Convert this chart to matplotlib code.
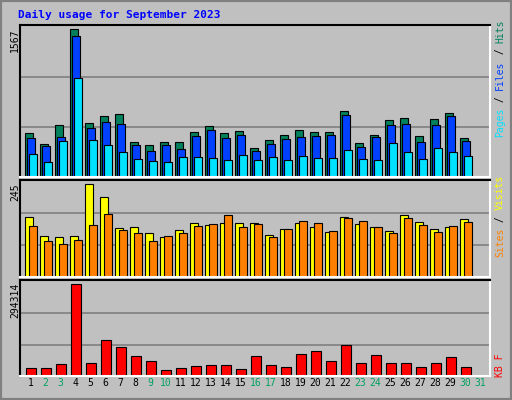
import matplotlib
matplotlib.use("Agg")
import matplotlib.pyplot as plt
import numpy as np

days = list(range(1, 32))
hits  = [471,355,557,1567,578,642,673,376,344,376,376,482,546,471,493,312,397,450,503,482,482,705,365,450,610,631,440,620,684,418,0]
files = [418,333,429,1492,525,588,567,344,280,344,301,440,503,418,450,280,355,408,429,440,450,663,323,429,557,567,376,557,652,386,0]
pages = [248,163,386,1046,397,344,269,195,174,163,216,216,206,184,238,184,216,184,227,206,206,291,195,184,365,269,195,312,269,227,0]
visits = [157,107,104,107,245,211,128,131,115,104,123,142,136,142,142,142,110,126,142,131,118,157,139,131,120,163,144,126,131,152,0]
sites  = [134,94,86,96,136,165,123,115,94,107,115,134,139,163,131,139,104,126,147,142,120,155,147,131,115,155,136,118,134,144,0]
kbytes = [26850,26850,39700,294314,43000,113800,91300,62300,49400,20400,26850,33300,36500,36500,23600,62300,
          36500,30100,68700,78400,49400,97700,43000,65500,43000,43000,30100,43000,59100,30100,0]
weekend = [2,3,9,10,16,17,23,24,30,31]
title = "Daily usage for September 2023"

W, H = 512, 400
fig = plt.figure(figsize=(W/100, H/100), dpi=100, facecolor="#C0C0C0")
mono = "DejaVu Sans Mono"

def ax_px(x0, y0, x1, y1):
    return fig.add_axes([x0/W, 1-y1/H, (x1-x0)/W, (y1-y0)/H])

x = np.array(days, dtype=float)
xl = (1-5/15, 1-5/15+470/15)

def style(ax, top):
    ax.set_facecolor("#C0C0C0")
    ax.set_xlim(*xl); ax.set_ylim(0, top)
    ax.set_xticks([]); ax.set_yticks([])
    for k in (1, 2):
        ax.axhline(top*k/3.05, color="#808080", lw=1.2, zorder=0)
    ax.spines["top"].set_color("black"); ax.spines["left"].set_color("black")
    ax.spines["bottom"].set_color("white"); ax.spines["right"].set_color("white")
    for s in ax.spines.values(): s.set_linewidth(1.5)

kw = dict(align="edge", edgecolor="black", linewidth=0.8)
a1 = ax_px(20, 25, 490, 177)
style(a1, 1567*151.7/147.4)
a1.bar(x, hits, 0.5, color="#00805C", **kw)
a1.bar(x+2/15, files, 0.5, color="#0040FF", **kw)
a1.bar(x+4/15, pages, 0.5, color="#00E0FF", **kw)

a2 = ax_px(20, 180, 490, 277)
style(a2, 245*288/277)
a2.bar(x, visits, 0.55, color="#FFFF00", **kw)
a2.bar(x+4/15, sites, 0.5, color="#FF8000", **kw)

a3 = ax_px(20, 280, 490, 376)
style(a3, 294314*285/274)
a3.bar(x+1/15, kbytes, 0.68, color="#FF0000", **kw)

for d in days:
    a3.text(d+0.37, -0.02, str(d), transform=a3.get_xaxis_transform(), ha="center", va="top",
            fontsize=7, family=mono, color="#00A060" if d in weekend else "black")

fig.text(18/W, 1-15/H, title, fontsize=8, family=mono, weight="bold", color="#0000FF", va="center")
for lbl, yp in (("1567", 28), ("245", 183), ("294314", 283)):
    fig.text(15/W, 1-yp/H, lbl, rotation=90, fontsize=7, family=mono, ha="center", va="top")

def vlabel(parts, ybottom, xp=500):
    y = ybottom
    for t, c in parts:
        fig.text(xp/W, 1-y/H, t, rotation=90, fontsize=7, family=mono, color=c, ha="center", va="bottom")
        y -= 5.9*len(t)
vlabel([("Pages", "#00E0FF"), (" / ", "black"), ("Files", "#0040FF"), (" / ", "black"), ("Hits", "#00805C")], 137)
vlabel([("Sites", "#FF8000"), (" / ", "black"), ("Visits", "#FFFF00")], 257)
vlabel([("KB F", "#FF0000")], 377)

# outer border
from matplotlib.patches import Rectangle
fig.patches.append(Rectangle((0, 0), 1, 1, transform=fig.transFigure, fill=False, edgecolor="#808080", lw=3))
fig.savefig("out.png", dpi=100, facecolor=fig.get_facecolor())
